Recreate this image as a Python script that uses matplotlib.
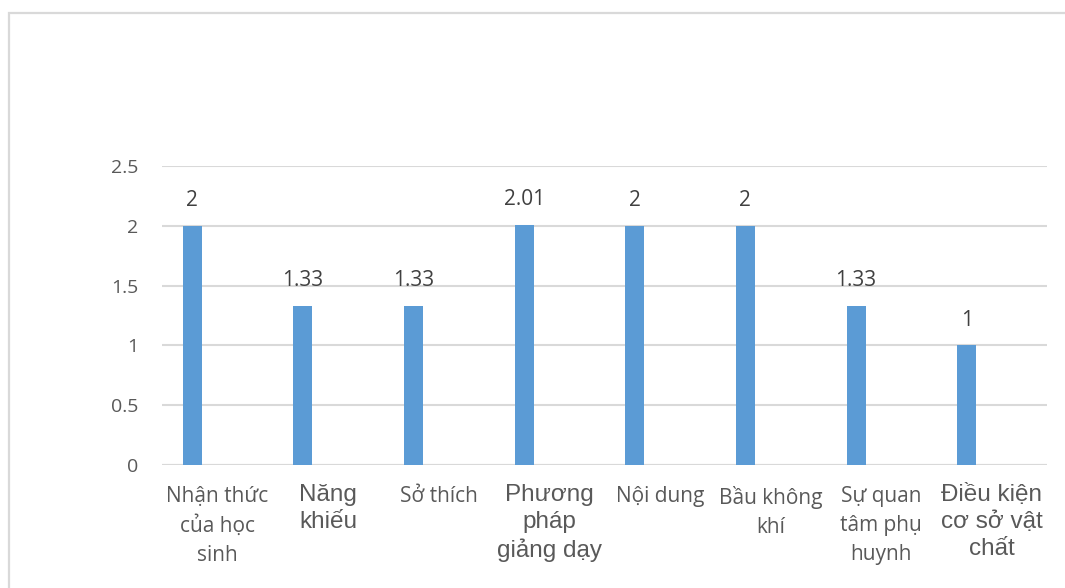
import matplotlib.pyplot as plt
import matplotlib.patches as patches
import numpy as np

# categories, wrapped the way they appear under the axis
categories = ['Nhận thức\ncủa học\nsinh', 'Năng\nkhiếu', 'Sở thích', 'Phương\npháp\ngiảng dạy',
              'Nội dung', 'Bầu không\nkhí', 'Sự quan\ntâm phụ\nhuynh', 'Điều kiện\ncơ sở vật\nchất']
values = [2, 1.33, 1.33, 2.01, 2, 2, 1.33, 1]
value_labels = ['2', '1.33', '1.33', '2.01', '2', '2', '1.33', '1']
# some labels were typed in a different font
big_font = [False, True, False, True, False, False, False, True]
y_ticks = [0, 0.5, 1, 1.5, 2, 2.5]
y_tick_labels = ['0', '0.5', '1', '1.5', '2', '2.5']

bar_color = '#5b9bd5'
grid_color = '#d9d9d9'
text_color = '#595959'

fig = plt.figure(figsize=(10.65, 5.88), dpi=100)
fig.patch.set_facecolor('white')

# outer chart frame (runs off the right and bottom edges)
frame = patches.Rectangle((9 / 1065, -0.1), 1.2, 1 - 13 / 588 + 0.1, transform=fig.transFigure,
                          fill=False, edgecolor=grid_color, linewidth=1.6)
fig.patches.append(frame)

ax = fig.add_axes([162 / 1065, 1 - 465 / 588, (1047 - 162) / 1065, (465 - 166) / 588])

x = np.arange(len(categories))
# bars sit left of the category centre (clustered with an empty second series)
bar_x = x - 0.226
ax.bar(bar_x, values, width=0.172, color=bar_color, zorder=3)

for bx, v, lab in zip(bar_x, values, value_labels):
    ax.annotate(lab, (bx, v), xytext=(0, 18), textcoords='offset points', ha='center', va='center',
                fontsize=15, color='#404040', family='Open Sans')

ax.set_xlim(-0.5, len(categories) - 0.5)
ax.set_ylim(0, 2.5)
ax.set_yticks(y_ticks)
ax.set_yticklabels(y_tick_labels, fontsize=14, color=text_color, family='Open Sans')
ax.tick_params(axis='y', length=0, pad=17)
ax.set_xticks([])
ax.grid(axis='y', color=grid_color, linewidth=1.5, zorder=0)
for side in ['top', 'right', 'left', 'bottom']:
    ax.spines[side].set_visible(False)
ax.axhline(0, color=grid_color, linewidth=1.5, zorder=1)

# category labels under the axis
for xi, cat, big in zip(x, categories, big_font):
    if big:
        ax.text(xi, -0.065, cat, ha='center', va='top', fontsize=17.5, color=text_color,
                family='Liberation Sans', linespacing=1.28, transform=ax.get_xaxis_transform())
    else:
        ax.text(xi, -0.07, cat, ha='center', va='top', fontsize=15, color=text_color,
                family='Open Sans', linespacing=1.5, transform=ax.get_xaxis_transform())

fig.savefig('out.png', dpi=100)
